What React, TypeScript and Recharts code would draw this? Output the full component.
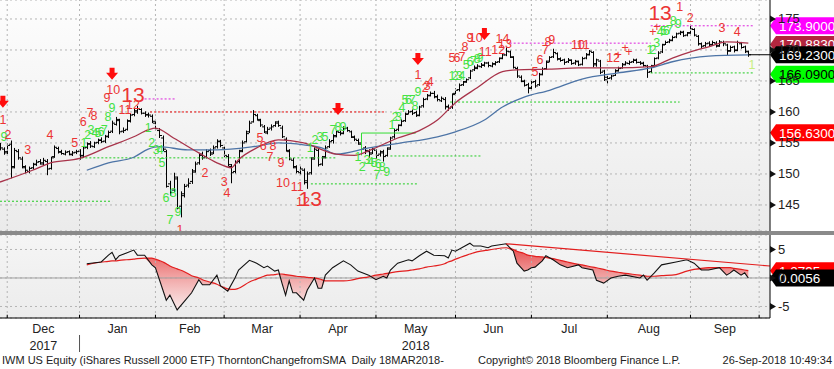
import React from 'react';
import {
  ComposedChart,
  Bar,
  Line,
  Area,
  Scatter,
  XAxis,
  YAxis,
  CartesianGrid,
  ReferenceLine,
} from 'recharts';

const FONT = '"Liberation Sans", Arial, sans-serif';

// trading-day index of the first session of each month (Dec 2017 .. Oct 2018)
const monthStarts = [2, 22, 43, 62, 83, 104, 126, 147, 168, 191, 210];
const monthMids = [12, 32.5, 52.5, 72.5, 93.5, 115, 136.5, 157.5, 179.5, 200.5];
const monthNames = ['Dec', 'Jan', 'Feb', 'Mar', 'Apr', 'May', 'Jun', 'Jul', 'Aug', 'Sep'];
const yearUnder: Record<string, string> = { Dec: '2017', May: '2018' };

// IWM daily bars, 29-Nov-2017 .. 26-Sep-2018
const opens = [
  154.6, 154.0, 153.6, 154.8, 151.2, 153.6, 152.4, 151.0, 150.4, 151.0,
  151.6, 152.0, 151.6, 152.0, 150.9, 152.8, 154.1, 153.5, 153.2, 153.6,
  153.1, 153.5, 153.7, 152.9, 154.3, 154.9, 154.4, 155.1, 155.5, 155.3,
  156.1, 156.9, 158.0, 158.6, 156.9, 157.2, 158.6, 159.6, 160.0, 160.4,
  159.8, 159.5, 159.3, 158.2, 157.0, 155.8, 153.6, 148.4, 147.4, 149.2,
  144.8, 146.8, 148.2, 148.8, 150.5, 151.8, 153.2, 152.8, 153.8, 153.4,
  154.4, 155.2, 154.2, 152.8, 151.2, 150.4, 152.0, 153.8, 155.2, 156.8,
  158.4, 159.4, 158.6, 157.6, 156.6, 157.4, 157.8, 158.4, 157.4, 155.6,
  153.6, 152.2, 151.0, 150.2, 150.6, 148.9, 150.2, 152.6, 153.8, 151.6,
  152.8, 154.4, 155.4, 156.2, 156.7, 156.6, 157.4, 156.8, 155.9, 155.4,
  154.8, 154.2, 153.6, 153.4, 153.8, 153.2, 153.6, 153.0, 154.2, 156.0,
  157.2, 157.9, 158.6, 159.7, 160.1, 159.9, 159.5, 161.0, 162.1, 162.7,
  163.0, 162.5, 161.8, 162.0, 160.9, 160.8, 163.0, 163.6, 164.4, 164.9,
  165.5, 166.8, 167.0, 167.3, 167.5, 167.9, 167.4, 167.7, 168.1, 168.7,
  169.2, 169.7, 168.8, 167.0, 165.6, 164.9, 164.4, 163.9, 164.9, 164.4,
  166.1, 167.0, 168.2, 168.9, 169.4, 168.6, 168.4, 168.1, 168.3, 167.9,
  168.1, 167.7, 168.7, 169.3, 169.6, 167.8, 168.2, 166.6, 165.2, 165.5,
  165.9, 166.7, 167.1, 167.7, 167.8, 168.1, 168.4, 168.0, 167.9, 167.4,
  166.5, 167.5, 168.7, 169.7, 170.9, 171.3, 171.6, 172.1, 172.7, 172.9,
  172.4, 172.8, 173.3, 172.2, 171.0, 170.7, 171.1, 170.9, 171.1, 170.7,
  171.2, 170.8, 169.9, 170.5, 170.0, 171.0, 170.5, 169.7,
];
const highs = [
  155.0, 154.3, 154.9, 155.4, 154.2, 154.0, 152.8, 151.4, 151.2, 151.8,
  152.3, 152.4, 152.6, 152.4, 152.8, 154.6, 154.4, 153.9, 153.8, 153.8,
  153.7, 153.9, 154.0, 154.5, 155.1, 155.3, 155.2, 155.7, 155.9, 156.3,
  157.0, 158.6, 159.2, 158.9, 157.5, 158.8, 159.8, 160.5, 161.0, 160.6,
  160.1, 159.9, 159.6, 158.5, 157.4, 156.2, 153.9, 148.9, 150.2, 149.6,
  147.2, 148.4, 149.3, 150.8, 152.0, 153.4, 153.6, 154.0, 154.1, 154.6,
  155.6, 155.5, 154.4, 153.2, 151.6, 152.2, 153.9, 155.4, 157.0, 158.6,
  160.3, 159.7, 158.9, 157.9, 157.6, 158.0, 158.5, 158.6, 157.8, 155.9,
  154.0, 152.6, 151.4, 151.2, 150.9, 150.4, 152.7, 154.3, 154.2, 152.9,
  154.6, 155.6, 156.4, 157.0, 157.0, 157.7, 157.6, 157.0, 156.2, 155.7,
  155.0, 154.5, 154.0, 154.3, 154.0, 153.8, 153.9, 154.3, 156.0, 157.3,
  158.0, 158.8, 159.9, 160.3, 160.4, 160.2, 161.0, 162.3, 162.9, 163.3,
  163.4, 162.8, 162.5, 162.4, 161.2, 163.0, 163.8, 164.6, 165.0, 165.4,
  166.8, 167.5, 167.7, 167.9, 168.1, 168.1, 168.0, 168.2, 168.8, 169.4,
  170.4, 169.9, 169.0, 167.3, 165.9, 165.2, 164.7, 165.0, 165.2, 166.3,
  167.2, 168.3, 169.0, 170.2, 169.6, 168.8, 168.6, 168.7, 168.5, 168.4,
  168.3, 168.9, 169.5, 170.0, 169.8, 168.6, 168.4, 166.8, 165.8, 166.0,
  166.9, 167.3, 167.9, 168.2, 168.3, 168.6, 168.6, 168.2, 168.1, 167.6,
  167.6, 168.8, 169.8, 171.0, 171.5, 171.8, 172.3, 172.8, 173.1, 173.1,
  172.9, 173.9, 173.5, 172.4, 171.2, 171.3, 171.4, 171.5, 171.4, 171.6,
  171.5, 171.0, 170.7, 170.7, 171.5, 171.3, 170.7, 169.9,
];
const lows = [
  153.8, 153.1, 153.2, 149.3, 150.9, 152.3, 150.9, 150.1, 150.1, 150.7,
  151.3, 151.5, 151.3, 149.8, 150.7, 152.6, 153.3, 153.1, 153.0, 153.0,
  152.9, 153.2, 152.3, 152.6, 154.0, 154.2, 154.2, 154.8, 155.0, 155.0,
  155.8, 156.6, 157.8, 156.4, 156.6, 157.0, 158.3, 159.3, 159.7, 159.6,
  159.2, 159.1, 158.2, 157.0, 155.8, 153.7, 147.8, 146.5, 147.1, 144.3,
  143.0, 146.2, 147.8, 148.4, 150.2, 151.5, 152.3, 152.5, 152.9, 153.2,
  154.1, 154.3, 152.7, 151.2, 148.5, 150.1, 151.7, 153.5, 155.1, 156.6,
  158.3, 158.6, 157.6, 156.6, 156.4, 157.0, 157.6, 157.6, 155.8, 153.6,
  152.2, 150.9, 150.1, 149.9, 148.3, 147.6, 149.9, 152.3, 151.2, 151.3,
  152.5, 154.2, 154.9, 155.9, 156.2, 156.4, 156.8, 155.8, 155.3, 154.7,
  153.9, 153.2, 152.6, 153.2, 152.4, 152.8, 152.0, 152.8, 153.9, 155.7,
  156.9, 157.7, 158.4, 159.6, 159.5, 159.2, 159.3, 160.7, 161.9, 162.5,
  162.2, 161.7, 161.6, 160.4, 160.2, 160.5, 162.8, 163.3, 164.2, 164.7,
  165.3, 166.6, 166.9, 167.1, 167.3, 167.2, 167.2, 167.5, 167.9, 168.5,
  169.0, 168.7, 167.0, 165.5, 164.8, 164.1, 163.0, 163.6, 163.9, 164.2,
  165.9, 166.8, 168.0, 168.7, 168.3, 168.1, 167.6, 167.9, 167.6, 167.6,
  167.4, 167.5, 168.5, 169.1, 167.2, 167.3, 166.1, 165.0, 164.6, 165.2,
  165.8, 166.5, 167.0, 167.5, 167.6, 167.9, 167.8, 167.6, 167.3, 165.5,
  166.3, 167.3, 168.5, 169.5, 170.8, 171.1, 171.4, 171.9, 172.4, 172.1,
  172.2, 172.6, 172.2, 170.7, 170.3, 170.5, 170.6, 170.7, 170.4, 170.5,
  170.6, 169.2, 169.7, 169.6, 169.8, 170.2, 169.5, 168.9,
];
const closes = [
  154.2, 153.4, 154.6, 151.0, 153.8, 152.6, 151.2, 150.6, 150.9, 151.5,
  151.9, 151.8, 152.2, 150.8, 152.6, 154.3, 153.6, 153.3, 153.5, 153.2,
  153.4, 153.6, 153.0, 154.2, 154.8, 154.5, 155.0, 155.4, 155.2, 156.0,
  156.7, 158.2, 158.8, 156.8, 157.0, 158.5, 159.5, 160.2, 160.5, 159.8,
  159.6, 159.5, 158.5, 157.3, 156.2, 154.0, 148.0, 147.0, 149.5, 144.5,
  146.5, 148.0, 148.5, 150.3, 151.6, 153.0, 152.6, 153.6, 153.2, 154.2,
  155.3, 154.6, 153.0, 151.5, 150.2, 151.8, 153.6, 155.0, 156.5, 158.2,
  159.6, 158.8, 157.9, 156.8, 157.2, 157.6, 158.2, 157.8, 156.0, 153.8,
  152.4, 151.2, 150.4, 150.8, 148.6, 150.0, 152.4, 154.0, 151.5, 152.6,
  154.2, 155.2, 156.0, 156.8, 156.5, 157.3, 157.0, 156.0, 155.6, 155.0,
  154.0, 153.8, 153.2, 154.0, 153.0, 153.4, 152.8, 154.0, 155.8, 157.0,
  157.8, 158.5, 159.6, 160.0, 159.8, 159.4, 160.8, 162.0, 162.6, 163.0,
  162.4, 162.0, 162.2, 160.8, 160.6, 162.8, 163.5, 164.3, 164.8, 165.2,
  166.6, 167.2, 167.4, 167.6, 167.9, 167.5, 167.8, 168.0, 168.6, 169.2,
  169.8, 168.9, 167.2, 165.8, 165.0, 164.3, 163.8, 164.8, 164.2, 166.0,
  166.9, 168.0, 168.8, 169.6, 168.5, 168.3, 168.0, 168.4, 167.8, 168.2,
  167.6, 168.6, 169.2, 169.8, 167.6, 168.4, 166.4, 165.6, 165.4, 165.8,
  166.6, 167.0, 167.6, 167.9, 168.0, 168.3, 168.0, 167.8, 167.5, 166.4,
  167.3, 168.6, 169.5, 170.8, 171.2, 171.5, 172.0, 172.6, 172.8, 172.3,
  172.7, 173.4, 172.4, 171.0, 170.6, 171.0, 170.8, 171.2, 170.6, 171.3,
  171.0, 169.8, 170.4, 169.9, 171.2, 170.4, 169.8, 169.23,
];

// moving averages: [day index, value]
const fastMa = [
  [0, 148.7], [9, 150.6], [14, 151.8], [22, 152.5], [30, 154.4], [37, 156.0],
  [41, 157.1], [43, 157.4], [48, 155.8], [55, 153.4], [60, 151.8], [64, 151.0],
  [66, 152.3], [71, 154.2], [77, 155.5], [84, 155.0], [93, 153.2], [98, 153.0],
  [103, 154.0], [110, 155.8], [116, 157.0], [121, 158.7], [126, 161.5], [132, 163.9],
  [139, 166.5], [143, 166.8], [152, 166.9], [160, 167.1], [170, 167.1], [180, 167.3],
  [186, 168.7], [191, 169.7], [196, 170.5], [201, 171.3], [207, 171.1],
];
const slowMa = [
  [24, 150.6], [30, 151.8], [37, 152.7], [41, 154.0], [44, 154.4], [52, 153.9],
  [60, 153.9], [70, 154.4], [77, 155.0], [84, 154.7], [89, 154.2], [93, 153.2],
  [102, 154.2], [111, 155.0], [121, 156.0], [126, 156.8], [134, 158.7], [139, 160.8],
  [145, 162.4], [152, 163.5], [161, 165.3], [171, 166.3], [180, 167.1], [186, 168.1],
  [196, 169.0], [207, 169.2],
];

// TD sequential marks: [day index, price, text, kind]
const tdMarks: [number, number, string, string][] = [
  [0.8, 161.5, '', 'a'], [0.8, 158.7, '1', 'r'], [1.1, 156.0, '9', 'g'], [2.2, 156.3, '2', 'r'],
  [7.7, 153.9, '3', 'r'], [13.8, 156.3, '4', 'r'], [20.7, 155.0, '5', 'r'], [23.2, 155.0, '1', 'g'],
  [23.0, 158.4, '6', 'r'], [24.9, 159.8, '7', 'r'], [26.0, 159.4, '8', 'r'],
  [24.3, 156.3, '2', 'g'], [25.2, 157.1, '3', 'g'], [26.3, 156.6, '4', 'g'], [27.1, 156.6, '5', 'g'],
  [27.9, 156.8, '6', 'g'], [28.8, 157.1, '7', 'g'], [29.9, 159.2, '8', 'g'], [31.0, 160.6, '9', 'g'],
  [29.6, 162.3, '9', 'r'], [31.3, 163.5, '10', 'r'], [31.0, 166.0, '', 'a'],
  [34.6, 160.3, '11', 'r'], [36.8, 161.1, '12', 'r'], [36.8, 162.8, '13', 'R'],
  [41.0, 157.4, '1', 'g'], [42.0, 155.0, '2', 'g'], [43.2, 153.9, '3', 'g'], [44.3, 153.9, '4', 'g'],
  [44.8, 151.8, '5', 'g'], [45.9, 146.1, '6', 'g'], [47.0, 142.6, '7', 'g'], [47.9, 147.0, '8', 'g'],
  [49.2, 143.9, '9', 'g'], [49.8, 141.0, '1', 'r'], [56.7, 150.2, '2', 'r'], [62.0, 148.7, '3', 'r'],
  [62.8, 146.9, '4', 'r'], [71.9, 155.8, '5', 'r'], [72.8, 154.5, '6', 'r'], [74.7, 152.7, '7', 'r'],
  [75.5, 154.5, '8', 'r'], [77.7, 151.8, '9', 'r'], [78.3, 148.5, '10', 'r'], [82.2, 147.9, '11', 'r'],
  [83.8, 145.5, '12', 'r'], [85.8, 146.1, '13', 'R'],
  [85.8, 154.2, '1', 'g'], [87.1, 155.5, '2', 'g'], [88.5, 156.0, '3', 'g'], [89.9, 156.0, '5', 'g'],
  [92.1, 157.1, '7', 'g'], [93.5, 157.6, '8', 'g'], [94.9, 157.6, '9', 'g'], [93.5, 160.3, '', 'a'],
  [99.0, 152.7, '1', 'g'], [100.2, 151.1, '2', 'g'], [101.5, 152.2, '3', 'g'], [102.5, 152.0, '4', 'g'],
  [103.5, 151.8, '5', 'g'], [104.6, 151.6, '6', 'g'], [104.3, 149.8, '7', 'g'], [105.7, 151.1, '8', 'g'],
  [107.0, 150.3, '9', 'g'],
  [108.4, 157.9, '1', 'g'], [109.3, 159.2, '2', 'g'], [110.2, 159.2, '3', 'g'], [111.2, 160.6, '4', 'g'],
  [112.0, 161.9, '5', 'g'], [113.0, 161.9, '6', 'g'], [114.0, 161.9, '7', 'g'], [114.8, 161.0, '8', 'g'],
  [115.6, 163.2, '9', 'g'], [115.6, 168.4, '', 'a'], [115.6, 166.0, '1', 'r'], [117.6, 163.9, '2', 'r'],
  [118.2, 164.2, '3', 'r'], [119.0, 164.8, '4', 'r'],
  [125.0, 165.8, '1', 'g'], [126.0, 165.8, '2', 'g'], [127.0, 165.8, '3', 'g'], [127.8, 165.8, '4', 'g'],
  [129.0, 167.6, '5', 'g'], [130.0, 168.0, '6', 'g'], [131.0, 168.3, '7', 'g'], [132.0, 168.5, '8', 'g'],
  [132.8, 168.7, '9', 'g'],
  [125.0, 168.7, '5', 'r'], [126.4, 168.7, '6', 'r'], [127.8, 168.9, '7', 'r'], [128.6, 170.5, '8', 'r'],
  [130.0, 171.9, '9', 'r'], [131.6, 171.9, '10', 'r'], [134.0, 172.4, '', 'a'], [134.2, 169.7, '11', 'r'],
  [137.8, 170.0, '12', 'r'], [139.0, 171.8, '14', 'r'], [139.7, 171.0, '13', 'r'],
  [148.0, 166.5, '5', 'r'], [149.4, 168.4, '6', 'r'], [150.8, 170.0, '7', 'r'], [151.6, 171.3, '8', 'r'],
  [152.6, 171.6, '9', 'r'], [159.9, 170.8, '10', 'r'], [161.3, 170.8, '11', 'r'],
  [169.6, 168.7, '12', 'r'], [171.0, 169.2, '+', 'r'], [172.9, 170.3, '+', 'r'], [174.0, 169.7, '+', 'r'],
  [179.8, 170.0, '1', 'g'], [180.6, 170.0, '2', 'g'], [181.7, 171.1, '3', 'g'],
  [180.6, 172.9, '+', 'r'], [181.7, 173.7, '+', 'r'],
  [182.6, 172.9, '4', 'g'], [183.5, 173.0, '5', 'g'], [184.3, 173.0, '6', 'g'], [185.2, 173.2, '7', 'g'],
  [186.2, 174.6, '8', 'g'], [187.6, 174.2, '9', 'g'],
  [182.6, 176.1, '13', 'R'], [188.0, 176.9, '1', 'r'], [190.9, 175.2, '2', 'r'],
  [199.7, 173.5, '3', 'r'], [203.9, 172.9, '4', 'r'], [208.0, 167.6, '1', 'y'],
];

// support / resistance levels: [from index, to index, price, kind]
const levels: [number, number, number, string][] = [
  [0, 31, 145.6, 'g'],
  [22.5, 93, 152.6, 'g'],
  [41.5, 106.5, 160.0, 'r'],
  [40, 48.5, 162.1, 'm'],
  [86, 115.5, 148.4, 'g'],
  [108, 133, 152.9, 'g'],
  [100, 115, 156.6, 's'],
  [124.5, 188, 161.6, 'g'],
  [141, 180, 171.1, 'm'],
  [180, 208.5, 166.3, 'g'],
  [180, 208.5, 173.9, 'm'],
  [207, 213, 169.23, 'k'],
];
const tdstFoot = [100, 153.0];

// oscillator (change from SMA, %), and its average, read at these day indices
const oscIdx = [
  24, 28, 30, 31, 32, 33, 35, 37, 38, 40, 42, 43, 46, 47, 49, 51, 53, 55, 56, 58,
  60, 61, 63, 65, 66, 69, 71, 73, 74, 76, 77, 78, 79, 80, 81, 82, 84, 85, 87, 88,
  89, 90, 92, 95, 97, 99, 102, 104, 106, 107, 108, 110, 113, 114, 116, 118, 120, 123, 124, 125,
  126, 130, 131, 133, 135, 136, 140, 142, 143, 145, 146, 147, 148, 150, 151, 153, 155, 157, 160, 161,
  164, 165, 167, 169, 171, 173, 177, 178, 179, 181, 183, 187, 190, 192, 194, 196, 199, 201, 202, 203,
  205, 206, 207,
];
const oscChg = [
  2.5, 2.8, 4.0, 4.5, 3.2, 3.9, 4.4, 4.9, 4.0, 4.0, 2.3, 1.8, -3.9, -3.0, -5.6, -4.1, -2.6, -0.3, -1.2, -1.2,
  0.5, -1.4, -2.3, 0.0, 1.4, 3.1, 2.6, 1.8, 2.1, 1.2, 1.4, -0.9, -3.0, -0.5, -2.6, -2.6, -3.9, -2.1, 0.0, -1.8,
  -1.8, 0.5, 1.8, 3.0, 2.3, 1.2, 0.5, -0.3, 0.3, 0.0, 1.4, 2.6, 3.2, 3.0, 3.9, 4.7, 4.0, 3.9, 3.5, 4.9,
  4.7, 6.1, 5.6, 5.6, 5.3, 5.6, 6.0, 4.7, 2.6, 1.2, 1.4, 1.8, 1.9, 3.0, 3.9, 3.2, 2.3, 1.8, 2.3, 1.8,
  1.4, -0.4, -0.9, 0.0, 0.3, 0.5, 0.0, 0.5, -0.4, 0.9, 2.3, 2.8, 3.2, 2.6, 1.4, 1.4, 1.8, 0.5, 0.9, 1.4,
  0.5, 0.9, 0.0056,
];
const oscAvg = [
  2.3, 2.8, 2.9, 3.0, 3.0, 3.1, 3.2, 3.3, 3.4, 3.5, 3.5, 3.3, 2.5, 2.1, 1.6, 1.1, 0.4, 0.0, -0.3, -0.7,
  -1.1, -1.4, -1.9, -2.0, -1.8, -0.7, -0.2, 0.3, 0.5, 0.6, 0.7, 0.7, 0.6, 0.5, 0.4, 0.3, 0.2, 0.1, 0.0, -0.1,
  -0.3, -0.5, -0.5, -0.5, -0.4, -0.1, 0.2, 0.5, 0.7, 0.8, 0.9, 1.1, 1.3, 1.4, 1.6, 1.9, 2.1, 2.5, 2.8, 3.0,
  3.3, 4.2, 4.4, 4.7, 4.9, 5.0, 5.3, 5.0, 4.7, 4.3, 4.0, 3.9, 3.8, 3.7, 3.6, 3.4, 3.1, 2.8, 2.4, 2.3,
  1.9, 1.8, 1.5, 1.2, 1.0, 0.8, 0.5, 0.4, 0.3, 0.3, 0.4, 0.6, 1.2, 1.5, 1.7, 1.8, 1.8, 1.8, 1.8, 1.7,
  1.5, 1.4, 1.3,
];
const oscTrend = [[140, 6.0], [213, 2.1]];

const priceTicks = [145, 150, 155, 160, 165, 170, 175];
const oscTicks = [-5, 0, 5];
const priceTags: [number, string][] = [
  [173.9, 'mag'], [170.883, 'wine'], [169.23, 'blk'], [166.09, 'grn'], [156.63, 'red'],
];
const oscTags: [number, string][] = [[1.2795, 'red'], [0.0056, 'blk']];

const tagColors: Record<string, [string, string]> = {
  mag: ['#ff00ff', '#ffffff'],
  wine: ['#b3263f', '#ffffff'],
  blk: ['#000000', '#ffffff'],
  grn: ['#00ff00', '#000000'],
  red: ['#ff0000', '#ffffff'],
};
const levelStyle: Record<string, { stroke: string; dash?: string }> = {
  g: { stroke: '#22cc22', dash: '2 2' },
  r: { stroke: '#ee1111', dash: '2 2' },
  m: { stroke: '#dd22dd', dash: '2 2' },
  s: { stroke: '#33dd33' },
  k: { stroke: '#000000' },
};

const fastAt = new Map(fastMa.map(([i, v]) => [i, v]));
const slowAt = new Map(slowMa.map(([i, v]) => [i, v]));
const bars = closes.map((c, i) => ({
  i,
  o: opens[i],
  h: highs[i],
  l: lows[i],
  c,
  range: [lows[i], highs[i]],
  fast: fastAt.has(i) ? fastAt.get(i) : null,
  slow: slowAt.has(i) ? slowAt.get(i) : null,
}));
const tdData = tdMarks.map(([i, p, t, k]) => ({ i, p, t, k }));
const osc = oscIdx.map((i, n) => {
  const chg = oscChg[n];
  const avg = oscAvg[n];
  return { i, chg, avg, band: chg < avg ? [chg, avg] : [avg, avg] };
});

const OhlcBar = (props: any) => {
  const { x, y, width, height, payload } = props;
  if (x == null || y == null || !payload) return null;
  const top = Math.min(y, y + height);
  const h = Math.abs(height);
  const cx = Math.round(x + width / 2) + 0.5;
  const span = payload.h - payload.l || 1;
  const yo = top + ((payload.h - payload.o) / span) * h;
  const yc = top + ((payload.h - payload.c) / span) * h;
  return (
    <g stroke="#000" strokeWidth={1}>
      <line x1={cx} x2={cx} y1={top} y2={top + h} />
      <line x1={cx - 2.5} x2={cx} y1={yo} y2={yo} />
      <line x1={cx} x2={cx + 2.5} y1={yc} y2={yc} />
    </g>
  );
};

const TdMark = (props: any) => {
  const { cx, cy, payload } = props;
  if (cx == null || !payload) return null;
  if (payload.k === 'a') {
    return (
      <path
        d={`M${cx - 2.5},${cy - 7} h5 v5 h3.5 l-6,7 l-6,-7 h3.5 z`}
        fill="#ff0d0d"
      />
    );
  }
  const fill = payload.k === 'g' ? '#44e244' : payload.k === 'y' ? '#c6ee80' : '#ec3434';
  const size = payload.k === 'R' ? 21 : 12.5;
  return (
    <text
      x={cx}
      y={cy}
      textAnchor="middle"
      dominantBaseline="central"
      fill={fill}
      fontSize={size}
      fontFamily={FONT}
    >
      {payload.t}
    </text>
  );
};

const AxisTick = (props: any) => {
  const { x, y, payload } = props;
  return (
    <g>
      <path d={`M${x},${y - 3.5} L${x + 6},${y} L${x},${y + 3.5} Z`} fill="#111" />
      <text x={x + 8} y={y} dominantBaseline="central" fontSize={13} fill="#222" fontFamily={FONT}>
        {payload.value}
      </text>
    </g>
  );
};

const AxisTag = (props: any) => {
  const { viewBox, value, kind } = props;
  if (!viewBox) return null;
  const x0 = viewBox.x + viewBox.width;
  const yc = viewBox.y;
  const [bg, fg] = tagColors[kind];
  const h = 17;
  return (
    <g>
      <path d={`M${x0},${yc} L${x0 + 6},${yc - h / 2} H${x0 + 70} V${yc + h / 2} H${x0 + 6} Z`} fill={bg} />
      <text x={x0 + 9} y={yc + 0.5} dominantBaseline="central" fill={fg} fontSize={13.5} fontFamily={FONT}>
        {value.toFixed(4)}
      </text>
    </g>
  );
};

const MonthTick = (props: any) => {
  const { x, y, payload } = props;
  const name = monthNames[monthMids.indexOf(payload.value)];
  const year = yearUnder[name];
  return (
    <g fontFamily={FONT} fontSize={12.5} fill="#222">
      <text x={x} y={y + 11} textAnchor="middle" dominantBaseline="central">{name}</text>
      {year && (
        <text x={x} y={y + 28} textAnchor="middle" dominantBaseline="central">{year}</text>
      )}
    </g>
  );
};

export default function App() {
  return (
    <div
      style={{
        position: 'absolute', left: 0, top: 0, width: 834, height: 369,
        background: '#fff', overflow: 'hidden', fontFamily: FONT,
      }}
    >
      <div style={{ position: 'absolute', left: 0, top: 0, width: 770, height: 231, background: 'linear-gradient(#fdfdfd, #ebebeb)' }} />
      <div style={{ position: 'absolute', left: 0, top: 235, width: 770, height: 83, background: 'linear-gradient(#f5f5f5, #ececec)' }} />

      {/* price panel */}
      <div style={{ position: 'absolute', left: 0, top: 0 }}>
        <ComposedChart width={834} height={231} data={bars} margin={{ top: 0, right: 0, bottom: 0, left: 0 }}>
          <XAxis dataKey="i" type="number" domain={[0, 213]} hide allowDataOverflow />
          <YAxis
            orientation="right"
            width={64}
            domain={[140.8, 178.06]}
            ticks={priceTicks}
            allowDataOverflow
            tick={<AxisTick />}
            tickLine={false}
            tickSize={0}
            tickMargin={0}
            axisLine={{ stroke: '#000' }}
            interval={0}
          />
          <CartesianGrid vertical={false} stroke="#b5b5b5" strokeDasharray="2 3" />
          {monthStarts.map((m) => (
            <ReferenceLine key={`v${m}`} x={m} stroke="#b5b5b5" strokeDasharray="2 3" />
          ))}
          {levels.map(([a, b, p, k], n) => (
            <ReferenceLine
              key={`lv${n}`}
              segment={[{ x: a, y: p }, { x: b, y: p }]}
              stroke={levelStyle[k].stroke}
              strokeDasharray={levelStyle[k].dash}
              strokeWidth={1}
            />
          ))}
          <ReferenceLine
            segment={[{ x: tdstFoot[0], y: 156.6 }, { x: tdstFoot[0], y: tdstFoot[1] }]}
            stroke="#33dd33"
          />
          <Bar dataKey="range" barSize={3} shape={<OhlcBar />} isAnimationActive={false} />
          <Line dataKey="slow" type="monotone" connectNulls stroke="#4d74a6" strokeWidth={1.3} dot={false} activeDot={false} isAnimationActive={false} />
          <Line dataKey="fast" type="monotone" connectNulls stroke="#a8334a" strokeWidth={1.3} dot={false} activeDot={false} isAnimationActive={false} />
          <Scatter data={tdData} dataKey="p" shape={<TdMark />} isAnimationActive={false} />
          {priceTags.map(([v, k]) => (
            <ReferenceLine key={`t${k}`} y={v} stroke="none" label={<AxisTag value={v} kind={k} />} />
          ))}
        </ComposedChart>
      </div>

      <div style={{ position: 'absolute', left: 0, top: 231, width: 834, height: 4, background: '#8a8a8a' }} />

      {/* oscillator panel */}
      <div style={{ position: 'absolute', left: 0, top: 235 }}>
        <ComposedChart width={834} height={117} data={osc} margin={{ top: 0, right: 0, bottom: 0, left: 0 }}>
          <defs>
            <linearGradient id="shade" x1="0" y1="0" x2="0" y2="1">
              <stop offset="0%" stopColor="#e53b3b" stopOpacity={0.9} />
              <stop offset="100%" stopColor="#ffe6e6" stopOpacity={0.6} />
            </linearGradient>
          </defs>
          <XAxis
            dataKey="i"
            type="number"
            domain={[0, 213]}
            allowDataOverflow
            ticks={monthMids}
            interval={0}
            tick={<MonthTick />}
            tickLine={false}
            tickSize={0}
            tickMargin={0}
            axisLine={{ stroke: '#000' }}
            height={34}
          />
          <YAxis
            orientation="right"
            width={64}
            domain={[-7.02, 7.54]}
            ticks={oscTicks}
            allowDataOverflow
            tick={<AxisTick />}
            tickLine={false}
            tickSize={0}
            tickMargin={0}
            axisLine={{ stroke: '#000' }}
            interval={0}
          />
          <CartesianGrid vertical={false} stroke="#b5b5b5" strokeDasharray="2 3" />
          <ReferenceLine y={0} stroke="#a0a0a0" />
          {monthStarts.map((m) => (
            <ReferenceLine key={`v${m}`} x={m} stroke="#b5b5b5" strokeDasharray="2 3" />
          ))}
          {monthStarts.map((m) => (
            <ReferenceLine key={`tk${m}`} segment={[{ x: m, y: -7.02 }, { x: m, y: -6.45 }]} stroke="#000" />
          ))}
          <ReferenceLine
            segment={[{ x: monthStarts[1], y: -10 }, { x: monthStarts[1], y: -13 }]}
            stroke="#555"
            ifOverflow="visible"
          />
          <Area dataKey="band" type="linear" stroke="none" fill="url(#shade)" fillOpacity={1} activeDot={false} isAnimationActive={false} />
          <Line dataKey="avg" type="monotone" stroke="#e31e1e" strokeWidth={1.2} dot={false} activeDot={false} isAnimationActive={false} />
          <Line dataKey="chg" type="linear" stroke="#111" strokeWidth={1.1} dot={false} activeDot={false} isAnimationActive={false} />
          <ReferenceLine
            segment={[{ x: oscTrend[0][0], y: oscTrend[0][1] }, { x: oscTrend[1][0], y: oscTrend[1][1] }]}
            stroke="#e31e1e"
            strokeWidth={1.2}
          />
          {oscTags.map(([v, k]) => (
            <ReferenceLine key={`t${k}`} y={v} stroke="none" label={<AxisTag value={v} kind={k} />} />
          ))}
        </ComposedChart>
      </div>

      <div style={{ position: 'absolute', left: 2, top: 354, fontSize: 11, color: '#222', whiteSpace: 'pre' }}>
        {'IWM US Equity (iShares Russell 2000 ETF) ThorntonChangefromSMA  Daily 18MAR2018-'}
      </div>
      <div style={{ position: 'absolute', left: 478, top: 354, fontSize: 11, color: '#222', whiteSpace: 'pre' }}>
        Copyright© 2018 Bloomberg Finance L.P.
      </div>
      <div style={{ position: 'absolute', right: 2, top: 354, fontSize: 11, color: '#222', whiteSpace: 'pre' }}>
        26-Sep-2018 10:49:34
      </div>
    </div>
  );
}
